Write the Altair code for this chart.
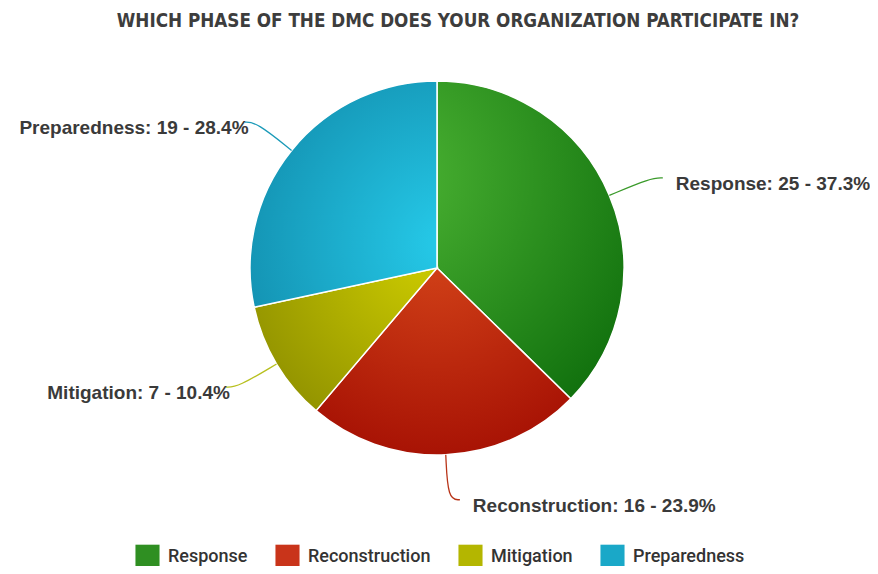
import altair as alt
import pandas as pd

phases = ["Response", "Reconstruction", "Mitigation", "Preparedness"]
counts = [25, 16, 7, 19]
percents = [37.3, 23.9, 10.4, 28.4]
flat_colors = ["#2f8f22", "#c9341a", "#b4b600", "#1aa8c8"]
line_colors = ["#3a9a2a", "#b83418", "#b8c020", "#1a9ab8"]
title_text = "WHICH PHASE OF THE DMC DOES YOUR ORGANIZATION PARTICIPATE IN?"

df = pd.DataFrame({
    "phase": phases,
    "count": counts,
    "pct": percents,
    "idx": list(range(len(phases))),
})

CX, CY, R = 429, 260, 187
R_ELBOW = 232
EXT = 12

def grad(x, y, r2, c0, c1):
    return {
        "gradient": "radial",
        "x1": x, "y1": y, "r1": 0,
        "x2": x, "y2": y, "r2": r2,
        "stops": [{"offset": 0, "color": c0}, {"offset": 1, "color": c1}],
    }

gradients = {
    "Response": grad(0.05, 0.3, 1.0, "#4db534", "#0b6a0a"),
    "Reconstruction": grad(0.47, 0.05, 1.0, "#d44419", "#9e0800"),
    "Mitigation": grad(0.92, 0.05, 1.1, "#cccb00", "#8f9000"),
    "Preparedness": grad(0.96, 0.72, 1.1, "#26cbea", "#1088a8"),
}

base = alt.Chart(df).transform_joinaggregate(
    total="sum(count)"
).transform_window(
    cum="sum(count)", sort=[{"field": "idx"}], frame=[None, 0]
).transform_calculate(
    f0="(datum.cum - datum.count) / datum.total",
    f1="datum.cum / datum.total",
)

theta_enc = dict(
    theta=alt.Theta("f0:Q", scale=alt.Scale(domain=[0, 1])),
    theta2="f1:Q",
)

legend_layer = base.mark_arc(radius=R, stroke="white", strokeWidth=1.5).encode(
    x=alt.value(CX), y=alt.value(CY),
    color=alt.Color(
        "phase:N",
        scale=alt.Scale(domain=phases, range=flat_colors),
        sort=phases,
        legend=alt.Legend(
            title=None, orient="none", direction="horizontal",
            legendX=127, legendY=536,
            symbolType="square", symbolSize=580, symbolStrokeWidth=0,
            labelFont="Roboto", labelFontSize=18, labelFontWeight=500,
            labelColor="#333333", labelOffset=8, columnPadding=27,
            symbolOpacity=1,
        ),
    ),
    **theta_enc,
)

slice_layers = [
    base.transform_filter(alt.datum.phase == p).mark_arc(
        radius=R, stroke="white", strokeWidth=1.5, fill=gradients[p]
    ).encode(x=alt.value(CX), y=alt.value(CY), **theta_enc)
    for p in phases
]

geo = base.transform_calculate(
    a="(datum.f0 + datum.f1) * PI",
    side="sin(datum.a) >= 0 ? 1 : -1",
    ex=f"{CX} + {R_ELBOW} * sin(datum.a) + datum.side * {EXT}",
    ey=f"{CY} - {R_ELBOW} * cos(datum.a)",
    label="datum.phase + ': ' + datum.count + ' - ' + format(datum.pct, '.1f') + '%'",
)

lines = geo.transform_calculate(
    pts="[0, 1, 2]"
).transform_flatten(["pts"]).transform_calculate(
    px=f"datum.pts == 0 ? {CX} + {R} * sin(datum.a) : (datum.pts == 1 ? {CX} + {R_ELBOW} * sin(datum.a) : datum.ex)",
    py=f"datum.pts == 0 ? {CY} - {R} * cos(datum.a) : datum.ey",
).mark_line(interpolate="basis", strokeWidth=1.3).encode(
    x=alt.X("px:Q", scale=None),
    y=alt.Y("py:Q", scale=None),
    detail="phase:N",
    order="pts:Q",
    stroke=alt.Stroke("phase:N", scale=alt.Scale(domain=phases, range=line_colors), legend=None),
)

text_common = dict(font="Liberation Sans", fontSize=19, fontWeight="bold",
                   color="#3a3a3a", baseline="middle", dy=6)

right_labels = geo.transform_filter("datum.side > 0").mark_text(
    align="left", dx=13, **text_common
).encode(x=alt.X("ex:Q", scale=None), y=alt.Y("ey:Q", scale=None), text="label:N")

left_labels = geo.transform_filter("datum.side < 0").mark_text(
    align="right", dx=4, **text_common
).encode(x=alt.X("ex:Q", scale=None), y=alt.Y("ey:Q", scale=None), text="label:N")

title = alt.Chart(alt.Data(values=[{"t": title_text}])).mark_text(
    font="DejaVu Sans Condensed", fontSize=18.7, fontWeight="bold",
    color="#3d3d3d", baseline="middle", align="center",
).encode(x=alt.value(450), y=alt.value(13), text="t:N")

chart = alt.layer(
    legend_layer, *slice_layers, lines, right_labels, left_labels, title
).properties(
    width=862, height=558, autosize=alt.AutoSizeParams(type="none"), padding=0,
    background="white",
).configure_view(stroke=None)

chart.save("out.html", embed_options={"renderer": "svg", "actions": False})
